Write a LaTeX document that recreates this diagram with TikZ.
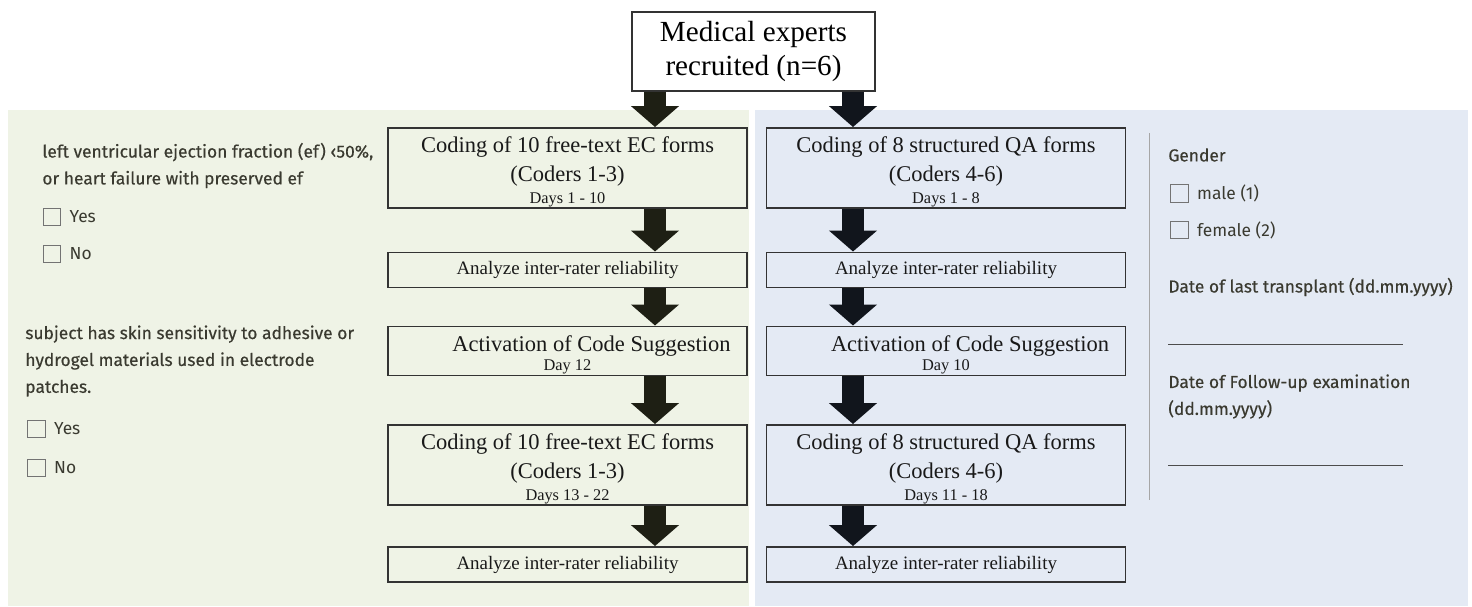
\documentclass[tikz,border=0pt]{standalone}
\usepackage{fontspec}
\setmainfont{Liberation Serif}
\newfontfamily\formfont{Fira Sans}
\newfontfamily\formfontb[FakeBold=0.35]{Fira Sans}
\usetikzlibrary{arrows.meta}
\definecolor{panelgreen}{RGB}{239,243,230}
\definecolor{panelblue}{RGB}{228,234,244}
\definecolor{formink}{RGB}{58,58,48}
\definecolor{arrowolive}{RGB}{30,31,20}
\definecolor{arrownavy}{RGB}{17,21,28}
\newcommand{\dayline}[2][-4pt]{\\[#1]{\fontsize{9.3}{10}\selectfont #2}}
\newcommand{\lowstrut}{\rule{0pt}{13.5pt}}

\begin{document}
\begin{tikzpicture}[
  stage/.style={draw=black!80, line width=1.1pt, minimum width=7.18cm, align=center, inner sep=1pt, text=black!90, font=\fontsize{12.8}{16.4}\selectfont},
  tall/.style={stage, minimum height=1.6cm, inner ysep=0pt},
  act/.style={stage, minimum height=0.84cm},
  flat/.style={stage, minimum height=0.7cm, font=\fontsize{10.8}{13}\selectfont},
  blockarrow/.style={line width=0.44cm, -{Triangle[width=0.94cm,length=0.42cm]}},
  formtxt/.style={font=\formfont\fontsize{9.9}{15.3}\selectfont, text=formink, align=left, anchor=west, inner sep=0pt},
  formhead/.style={formtxt, font=\formfontb\fontsize{9.9}{15.3}\selectfont},
  chk/.style={draw=black!55, line width=0.7pt, minimum size=0.35cm, inner sep=0pt}]
\useasboundingbox (0,0) rectangle (29.44,-12.12);
\fill[panelgreen] (0.16,-2.2) rectangle (14.98,-12.12);
\fill[panelblue] (15.1,-2.2) rectangle (29.36,-12.12);

\node[draw=black!80, line width=1.1pt, minimum width=4.86cm, minimum height=1.58cm, align=center, inner sep=1pt,
  font=\fontsize{16.6}{19.8}\selectfont] (top) at (15.07,-1.03) {Medical experts\\recruited (n=6)};

% free-text EC forms
\node[tall] (L1) at (11.35,-3.36) {\lowstrut Coding of 10 free-text EC forms\\(Coders 1-3)\dayline{Days 1 - 10}};
\node[flat] (L2) at (11.35,-5.4) {Analyze inter-rater reliability};
\node[act] (L3) at (11.35,-7.02) {\lowstrut\hspace*{0.96cm}Activation of Code Suggestion\dayline[-6pt]{Day 12}};
\node[tall] (L4) at (11.35,-9.3) {\lowstrut Coding of 10 free-text EC forms\\(Coders 1-3)\dayline{Days 13 - 22}};
\node[flat] (L5) at (11.35,-11.29) {Analyze inter-rater reliability};

% structured QA forms
\node[tall] (R1) at (18.92,-3.36) {\lowstrut Coding of 8 structured QA forms\\(Coders 4-6)\dayline{Days 1 - 8}};
\node[flat] (R2) at (18.92,-5.4) {Analyze inter-rater reliability};
\node[act] (R3) at (18.92,-7.02) {\lowstrut\hspace*{0.96cm}Activation of Code Suggestion\dayline[-6pt]{Day 10}};
\node[tall] (R4) at (18.92,-9.3) {\lowstrut Coding of 8 structured QA forms\\(Coders 4-6)\dayline{Days 11 - 18}};
\node[flat] (R5) at (18.92,-11.29) {Analyze inter-rater reliability};

\coordinate (lx) at (13.1,0);
\coordinate (rx) at (17.06,0);
\draw[blockarrow, draw=arrowolive] (top.south -| lx) -- (L1.north -| lx);
\draw[blockarrow, draw=arrownavy] (top.south -| rx) -- (R1.north -| rx);
\foreach \a/\b in {1/2,2/3,3/4,4/5}{
  \draw[blockarrow, draw=arrowolive] (L\a.south -| lx) -- (L\b.north -| lx);
  \draw[blockarrow, draw=arrownavy] (R\a.south -| rx) -- (R\b.north -| rx);
}

% form excerpts
\node[formhead] (q1) at (0.84,-3.31) {left ventricular ejection fraction (ef) ‹50\%,\\or heart failure with preserved ef};
\node[chk, label={[formtxt, label distance=0.16cm]right:Yes}] (q1y) at (1.04,-4.34) {};
\node[chk, label={[formtxt, label distance=0.16cm]right:No}] (q1n) at (1.04,-5.08) {};
\node[formhead] (q2) at (0.5,-7.22) {subject has skin sensitivity to adhesive or\\hydrogel materials used in electrode\\patches.};
\node[chk, label={[formtxt, label distance=0.16cm]right:Yes}] (q2y) at (0.73,-8.58) {};
\node[chk, label={[formtxt, label distance=0.16cm]right:No}] (q2n) at (0.73,-9.36) {};

\draw[black!35] (22.98,-2.66) -- (22.98,-10.0);
\node[formhead] (gender) at (23.36,-3.1) {Gender};
\node[chk, label={[formtxt, label distance=0.16cm]right:male (1)}] (male) at (23.59,-3.87) {};
\node[chk, label={[formtxt, label distance=0.16cm]right:female (2)}] (female) at (23.59,-4.6) {};
\node[formhead] (tx) at (23.36,-5.74) {Date of last transplant (dd.mm.yyyy)};
\draw[black!70] (23.36,-6.88) -- (28.06,-6.88);
\node[formhead] (fu) at (23.36,-7.93) {Date of Follow-up examination\\(dd.mm.yyyy)};
\draw[black!70] (23.36,-9.3) -- (28.06,-9.3);
\end{tikzpicture}
\end{document}
